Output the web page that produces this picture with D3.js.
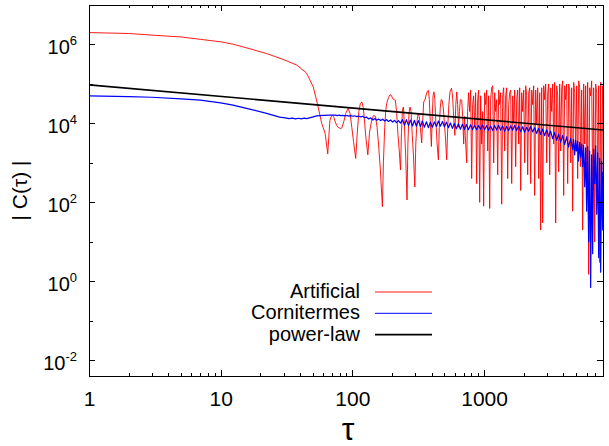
<!DOCTYPE html>
<html><head><meta charset="utf-8">
<script src="https://cdn.jsdelivr.net/npm/d3@7"></script>
<style>
body{margin:0;background:#fff}
svg{display:block}
text{font-family:"Liberation Sans",Arial,Helvetica,sans-serif;fill:#000}
</style>
</head><body><svg id="chart" width="609" height="446"></svg>
<script>
// ---------------- data ----------------
const xMajorTicks = [1, 10, 100, 1000];
const xTickLabels = ["1", "10", "100", "1000"];
const xMinorTicks = [2,3,4,5,6,7,8,9,20,30,40,50,60,70,80,90,200,300,400,500,600,700,800,900,2000,3000,4000,5000,6000,7000,8000];
const yMajorTicks = [1e-2, 1, 1e2, 1e4, 1e6];
const yTickExponents = ["-2", "0", "2", "4", "6"];
const yMinorTicks = [1e-1, 10, 1e3, 1e5];
const seriesNames = ["Artificial", "Cornitermes", "power-law"];
const xTitle = "τ";
const yTitle = "| C(τ) |";

// |C(tau)| for the artificial signal: [tau, value]
const artificial = [
 [1,2.0e6],[2,1.9e6],[3.2,1.7e6],[5,1.55e6],[7,1.35e6],[10,1.17e6],[12.4,1.02e6],[16.6,7.8e5],
 [22.3,5.9e5],[29.7,4.2e5],[37.9,3.0e5],[44.8,1.9e5],[50.4,8.5e4],[55,2.6e4],[58.5,1.0e4],[62.1,5.6e3],
 [65,1.7e3],[67.5,1.2e4],[69,1.5e4],[70.8,1.6e4],[72.5,1.4e4],[74,1.1e4],[76,9e3],[78,8e3],[81,7.4e3],
 [83,7.6e3],[86,1.1e4],[89,1.8e4],[93,2.4e4],[96,1.8e4],[99,8e3],[102,3.5e3],[106,1.3e3],[109,6e3],
 [112,2e4],[115,3.2e4],[118,3.5e4],[121,2.5e4],[124,1e4],[127,4e3],[131,1.6e3],[135,6e3],[140,1.2e4],
 [145,1.6e4],[150,1.5e4],[154,8e3],[158,3e3],[163,700],[169,78],[172,1e3],[176,8e3],[179,2e4],[182,3.2e4],
 [188,4.5e4],[193,5.3e4],[197,5.2e4],[203,4.2e4],[208,4e4],[212,3.9e4],[217,1.8e4],[222,5e3],[227,2e3],
 [232,660],[236,6e3],[240,2.2e4],[244,2.6e4],[248,1e4],[254,1.5e3],[260,115],[264,3e3],[269,1.8e4],
 [274,2.6e4],[279,2e4],[285,5e3],[291,1.5e3],[298,245],[303,3e3],[310,1.2e4],[316,1.8e4],[322,1.5e4],
 [328,8e3],[336,3.2e3],[341,1e4],[348,3.5e4],[355,3.9e4],[362,5e4],[370,6.5e4],[378,6.9e4],[384,4e4],
 [390,1.2e4],[398,2.6e3],[404,1.5e4],[410,5e4],[417,6.3e4],[423,4e4],[428,1.5e4],[433,8e3],[440,3e3],
 [450,1.2e3],[457,8e3],[465,2.5e4],[472,4e4],[480,3.9e4],[490,2.5e4],[500,1e4],[510,4e3],[520,1.2e3],
 [530,8e3],[540,3e4],[552,6.5e4],[566,7.8e4],[576,5e4],[585,2e4],[592,1e4],[600,5e3],[610,3e4],
 [620,6.3e4],[630,3e4],[640,8e3],[650,2e4],[660,4e4],[676,3.9e4],[688,1.5e4],[700,3e3],[710,1.5e4],
 [720,5e3],[738,1.0e3],[750,2e4],
 [763,6e4],[777,2e4],[791,7e4],[805,4e2],[819,3e4],[833,5e4],[848,8e3],[863,6e4],[878,3e2],[894,4e4],
 [910,7e4],[926,1e2],[942,5e4],[959,3e3],[976,2e4],[993,80],[1010,6e4],[1028,3e4],[1046,7e4],[1065,2e3],
 [1084,5e4],[1103,70],[1122,4e4],[1142,8e4],[1162,9e4],[1183,1e3],[1204,6e4],[1225,2e4],[1247,4e4],[1269,5e2],
 [1291,7e4],[1314,3e4],[1337,6e4],[1361,90],[1385,5e4],[1409,8e4],[1434,2e3],[1459,5e4],[1485,8e4],[1511,4e2],
 [1538,3e4],[1565,6e4],[1593,7e4],[1621,3e2],[1650,5e4],[1679,1e4],[1708,7e4],[1738,8e2],[1769,4e4],[1800,7e4],
 [1832,3e3],[1864,8e4],[1897,2e2],[1931,6e4],[1965,2e4],[2000,7e4],[2035,1e3],[2071,9e4],[2107,5e4],[2144,5e2],
 [2182,6e4],[2221,8e4],[2260,3e2],[2300,7e4],[2340,3e4],[2381,9e4],[2423,150],[2466,7e4],[2510,1e4],[2554,8e4],
 [2599,4e2],[2645,6e4],[2691,20],[2739,8e4],[2787,30],[2836,9e4],[2886,4e4],[2937,1e5],[2989,1e3],[3042,6e4],
 [3095,1e5],[3150,5e2],[3205,8e4],[3262,2e4],[3319,1e5],[3378,3e3],[3437,1.1e5],[3498,30],[3560,9e4],[3622,5e4],
 [3686,6e2],[3751,1e5],[3817,2e3],[3885,8e4],[3953,1.2e5],[4023,150],[4094,9e4],[4166,4e4],[4240,1e5],[4314,3e2],
 [4390,1e5],[4468,7e4],[4547,1e3],[4627,8e4],[4708,60],[4791,1.1e5],[4876,6e4],[4962,2e3],[5049,9e4],[5138,4e2],
 [5229,1.2e5],[5321,8e4],[5415,8e2],[5510,7e4],[5607,20],[5706,1e5],[5807,3e3],[5909,9e4],[6013,120],[6119,1.1e5],
 [6227,1.5],[6337,8e4],[6449,5e4],[6562,1.2e5],[6678,2e2],[6796,8e4],[6916,10],[7038,1e5],[7162,6e4],[7288,4e2],
 [7417,9e4],[7548,3],[7681,1.1e5],[7816,1e2],[7954,9e4],[8000,3e4]
];

// |C(tau)| for Cornitermes: [tau, value]
const cornitermes = [
 [1,5.0e4],[2,4.8e4],[3,4.6e4],[5,4.2e4],[7,3.9e4],[10,3.3e4],[12.4,2.9e4],[16.6,2.3e4],[22.3,1.8e4],
 [28,1.45e4],[31,1.38e4],[33,1.32e4],[35,1.36e4],[37,1.3e4],[39,1.35e4],[41,1.3e4],[43,1.36e4],[45,1.32e4],
 [48,1.4e4],[53.6,1.55e4],[60,1.6e4],[67,1.62e4],
 [74,1.62e4],[77,1.58e4],[79,1.63e4],[82,1.57e4],[85,1.6e4],[88,1.55e4],[91,1.59e4],[94,1.53e4],[97,1.57e4],
 [101,1.52e4],[104,1.56e4],[108,1.49e4],[112,1.54e4],[116,1.47e4],[120,1.52e4],[124,1.4e4],[128,1.45e4],
 [133,1.3e4],[138,1.38e4],[143,1.22e4],[148,1.33e4],[153,1.2e4],[158,1.3e4],[164,1.18e4],[170,1.28e4],
 [176,1.15e4],[182,1.25e4],[188,1.12e4],[195,1.22e4],[202,1.08e4],[209,1.2e4],[216,1.05e4],[224,1.18e4],
 [232,1.02e4],[240,1.25e4],[249,9.0e3],[257,1.25e4],[267,8.8e3],[276,1.22e4],[286,8.6e3],[296,1.2e4],
 [306,8.5e3],[317,1.18e4],[329,8.3e3],[340,1.15e4],[352,8.0e3],[365,1.1e4],[378,7.8e3],[391,1.08e4],
 [405,8.0e3],[420,1.1e4],[435,8.3e3],[450,1.15e4],[466,8.5e3],[483,1.12e4],[500,8.2e3],[518,1.08e4],
 [536,7.8e3],[555,1.03e4],[575,7.5e3],[595,1.0e4],[616,7.3e3],[638,9.8e3],[661,7.1e3],[685,9.6e3],
 [709,7.0e3],[734,9.4e3],[760,6.9e3],
 [790,9.2e3],[818,7.0e3],[847,9.0e3],[877,6.9e3],[908,8.8e3],[941,7.1e3],[974,9.1e3],[1009,6.9e3],
 [1045,8.9e3],[1082,6.7e3],[1121,8.6e3],[1161,6.6e3],[1202,8.8e3],[1245,6.8e3],[1289,9.0e3],[1335,6.7e3],
 [1383,8.6e3],[1432,6.3e3],[1483,8.4e3],[1536,6.5e3],[1590,8.7e3],[1647,6.7e3],[1706,8.9e3],[1766,6.6e3],
 [1829,8.6e3],[1894,6.2e3],[1962,8.2e3],[2032,6.0e3],[2104,8.0e3],[2179,6.3e3],[2256,8.4e3],[2337,6.1e3],
 [2420,7.8e3],[2506,5.6e3],[2595,7.4e3],[2688,5.3e3],[2783,7.2e3],[2882,4.9e3],[2985,6.9e3],[3091,4.7e3],
 [3201,6.4e3],[3315,4.1e3],[3433,5.9e3],[3556,3.7e3],[3682,5.4e3],[3813,3.3e3],[3949,5.0e3],[4090,2.9e3],
 [4235,4.6e3],[4386,2.5e3],[4542,4.2e3],[4704,2.2e3],[4787,3.9e3],[4872,1.6e3],[4958,3.7e3],[5045,2.0e3],
 [5134,3.5e3],[5225,1.1e3],[5317,3.3e3],[5411,1.4e3],[5507,3.0e3],[5604,800],[5703,2.8e3],[5804,250],
 [5906,2.4e3],[6011,60],[6117,2.6e3],[6225,10],[6335,2.0e3],[6447,0.7],[6561,1.6e3],[6677,5],
 [6795,2.2e3],[6915,300],[7037,2.7e3],[7161,50],[7288,1.8e3],[7417,4],[7548,1.3e3],[7681,1.7],
 [7817,1.1e3],[7955,20],[8000,600]
];

// fitted power law: [tau, value]
const powerLaw = [[1, 9.5e4], [8000, 6.8e3]];

// ---------------- drawing ----------------
const m = {left: 89, right: 603, top: 5, bottom: 376};
const svg = d3.select("#chart");

const x = d3.scaleLog().domain([1, 8000]).range([m.left, m.right]);
const y = d3.scaleLog().domain([4e-3, 1e7]).range([m.bottom, m.top]);

svg.append("defs").append("clipPath").attr("id", "clip")
  .append("rect").attr("x", m.left).attr("y", m.top)
  .attr("width", m.right - m.left).attr("height", m.bottom - m.top);

const line = d3.line().x(d => x(d[0])).y(d => y(d[1]));
const plot = svg.append("g").attr("clip-path", "url(#clip)");
const colors = ["#ff0000", "#0000ff", "#000000"];
const widths = [0.9, 1.2, 1.6];
[artificial, cornitermes, powerLaw].forEach((s, i) => {
  plot.append("path").datum(s).attr("d", line)
    .attr("fill", "none").attr("stroke", colors[i])
    .attr("stroke-width", widths[i]).attr("stroke-linejoin", "round");
});

// axes (ticks inward, mirrored)
function styleAxis(g) {
  g.select(".domain").remove();
  g.selectAll(".tick line").attr("stroke", "#000").attr("stroke-width", 1)
    .attr("shape-rendering", "crispEdges");
}
const fmtNone = () => "";
// bottom
const gb = svg.append("g").attr("transform", `translate(0,${m.bottom})`)
  .call(d3.axisBottom(x).tickValues(xMajorTicks).tickSizeInner(-6).tickSizeOuter(0)
        .tickFormat((d, i) => xTickLabels[i]));
styleAxis(gb);
gb.selectAll(".tick text").attr("y", 30).attr("dy", 0)
  .style("font-size", "21px").attr("font-family", null).attr("fill", "#000");
svg.append("g").attr("transform", `translate(0,${m.bottom})`)
  .call(d3.axisBottom(x).tickValues(xMinorTicks).tickSizeInner(-3).tickSizeOuter(0).tickFormat(fmtNone))
  .call(styleAxis);
// top
svg.append("g").attr("transform", `translate(0,${m.top})`)
  .call(d3.axisTop(x).tickValues(xMajorTicks).tickSizeInner(-6).tickSizeOuter(0).tickFormat(fmtNone))
  .call(styleAxis);
svg.append("g").attr("transform", `translate(0,${m.top})`)
  .call(d3.axisTop(x).tickValues(xMinorTicks).tickSizeInner(-3).tickSizeOuter(0).tickFormat(fmtNone))
  .call(styleAxis);
// left
const gl = svg.append("g").attr("transform", `translate(${m.left},0)`)
  .call(d3.axisLeft(y).tickValues(yMajorTicks).tickSizeInner(-6).tickSizeOuter(0).tickFormat(fmtNone))
  .call(styleAxis);
svg.append("g").attr("transform", `translate(${m.left},0)`)
  .call(d3.axisLeft(y).tickValues(yMinorTicks).tickSizeInner(-3.5).tickSizeOuter(0).tickFormat(fmtNone))
  .call(styleAxis);
gl.selectAll(".tick").each(function(d, i) {
  const t = d3.select(this).select("text")
    .attr("x", -12).attr("y", 9).attr("dy", 0).attr("text-anchor", "end")
    .attr("font-family", null).attr("fill", "#000").style("font-size", "20px").text(null);
  t.append("tspan").text("10");
  t.append("tspan").attr("dy", -9).style("font-size", "13px").text(yTickExponents[i]);
});
// right
svg.append("g").attr("transform", `translate(${m.right},0)`)
  .call(d3.axisRight(y).tickValues(yMajorTicks).tickSizeInner(-6).tickSizeOuter(0).tickFormat(fmtNone))
  .call(styleAxis);
svg.append("g").attr("transform", `translate(${m.right},0)`)
  .call(d3.axisRight(y).tickValues(yMinorTicks).tickSizeInner(-3.5).tickSizeOuter(0).tickFormat(fmtNone))
  .call(styleAxis);

// frame
svg.append("rect").attr("x", m.left).attr("y", m.top)
  .attr("width", m.right - m.left).attr("height", m.bottom - m.top)
  .attr("fill", "none").attr("stroke", "#000").attr("stroke-width", 1)
  .attr("shape-rendering", "crispEdges");

// axis titles
svg.append("text").attr("x", (m.left + m.right) / 2 + 2).attr("y", 440)
  .attr("text-anchor", "middle").style("font-size", "32px").text(xTitle);
svg.append("text").attr("transform", `translate(27,${(m.top + m.bottom) / 2}) rotate(-90)`)
  .attr("text-anchor", "middle").style("font-size", "21px").text(yTitle);

// legend
const leg = svg.append("g");
seriesNames.forEach((name, i) => {
  const by = 298 + i * 21.3;
  leg.append("text").attr("x", 360).attr("y", by).attr("text-anchor", "end")
    .style("font-size", "20px").text(name);
  leg.append("line").attr("x1", 375).attr("x2", 432).attr("y1", by - 6).attr("y2", by - 6)
    .attr("stroke", colors[i]).attr("stroke-width", i === 1 ? 1 : widths[i]);
});
</script>
</body></html>
